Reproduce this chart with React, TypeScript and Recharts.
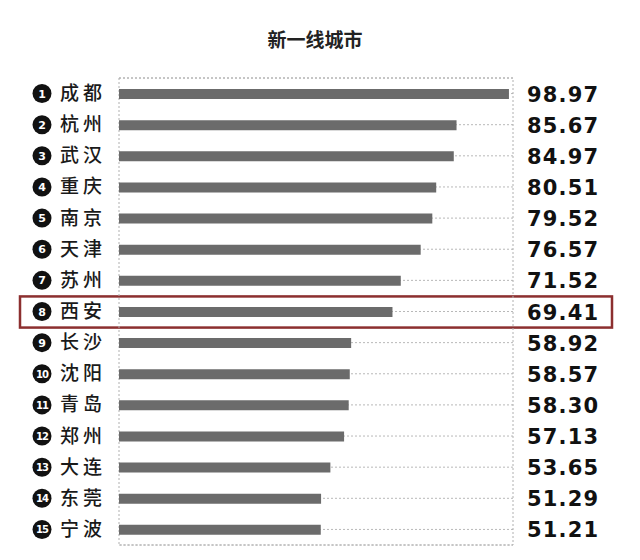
import React from 'react';
import { BarChart, Bar, XAxis, YAxis, CartesianGrid, ReferenceArea, usePlotArea } from 'recharts';

const cities = ['成都', '杭州', '武汉', '重庆', '南京', '天津', '苏州', '西安', '长沙', '沈阳', '青岛', '郑州', '大连', '东莞', '宁波'];
const scores = [98.97, 85.67, 84.97, 80.51, 79.52, 76.57, 71.52, 69.41, 58.92, 58.57, 58.30, 57.13, 53.65, 51.29, 51.21];
const scoreLabels = ['98.97', '85.67', '84.97', '80.51', '79.52', '76.57', '71.52', '69.41', '58.92', '58.57', '58.30', '57.13', '53.65', '51.29', '51.21'];
const title = '新一线城市';
const highlightCity = '西安';

const data = cities.map((c, i) => ({ city: c, score: scores[i], label: scoreLabels[i], rank: i + 1 }));

const CJK = '"Noto Sans CJK SC", "Noto Sans", sans-serif';

const LeftTick = (props: any) => {
  const { y, payload, index } = props;
  const rank = (index ?? 0) + 1;
  return (
    <g>
      <circle cx={42} cy={y} r={9.5} fill="#111" />
      <text x={42} y={y} dy={4} textAnchor="middle" fill="#fff" fontSize={rank >= 10 ? 10 : 11} fontWeight={700} fontFamily="DejaVu Sans" letterSpacing={rank >= 10 ? -1 : 0}>
        {rank}
      </text>
      <text x={60} y={y} dy={6.5} textAnchor="start" fill="#1a1a1a" fontSize={19} fontWeight={500} fontFamily={CJK} letterSpacing={4}>
        {payload.value}
      </text>
    </g>
  );
};

const RightTick = (props: any) => {
  const { y, index } = props;
  return (
    <text x={527} y={y} dy={8} textAnchor="start" fill="#111" fontSize={21} fontWeight={700} fontFamily="DejaVu Sans" letterSpacing={1.2}>
      {scoreLabels[index ?? 0]}
    </text>
  );
};

const Overlay = () => {
  const plot = usePlotArea();
  if (!plot) return null;
  const band = plot.height / cities.length;
  const idx = cities.indexOf(highlightCity);
  return (
    <g>
      <text x={315} y={47} textAnchor="middle" fontSize={19} fontWeight={700} fontFamily={CJK} fill="#222">
        {title}
      </text>
      <rect
        x={plot.x - 99}
        y={plot.y + idx * band + 0.5}
        width={plot.width + 198}
        height={band}
        fill="none"
        stroke="#8c2f2f"
        strokeWidth={2.5}
      />
    </g>
  );
};

export default function App() {
  return (
    <div style={{ position: 'absolute', left: 0, top: 0, background: '#fff' }}>
      <BarChart
        width={640}
        height={560}
        data={data}
        layout="vertical"
        margin={{ top: 78, right: 0, bottom: 15, left: 0 }}
        barCategoryGap={0}
      >
        <CartesianGrid yAxisId="left" horizontal={true} vertical={false} stroke="#b8b8b8" strokeDasharray="2 2" />
        <XAxis type="number" domain={[0, 100]} hide />
        <YAxis yAxisId="left" type="category" dataKey="city" width={119} axisLine={false} tickLine={false} tick={<LeftTick />} interval={0} />
        <YAxis yAxisId="right" orientation="right" type="category" dataKey="label" width={127} axisLine={false} tickLine={false} tick={<RightTick />} interval={0} />
        <ReferenceArea yAxisId="left" x1={0} x2={100} fill="none" stroke="#b0b0b0" strokeDasharray="2 2" strokeWidth={1} />
        <Bar yAxisId="left" dataKey="score" fill="#6b6b6b" barSize={10} isAnimationActive={false} />
        <Overlay />
      </BarChart>
    </div>
  );
}
